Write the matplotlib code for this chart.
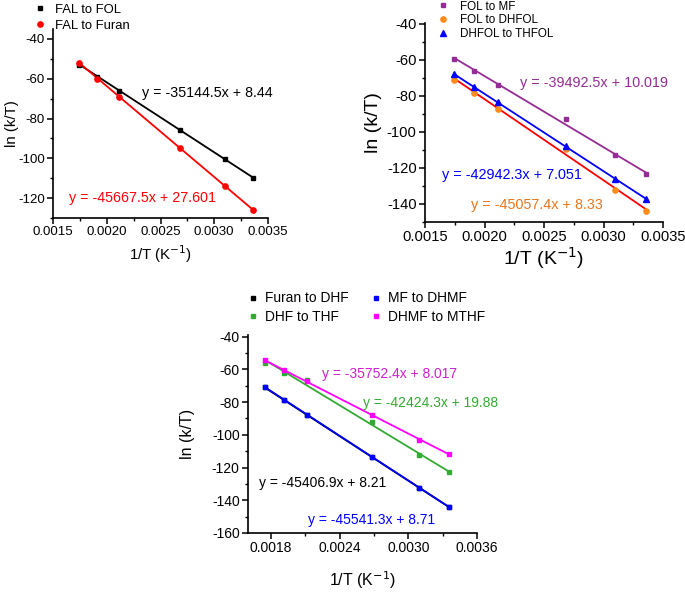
import matplotlib
matplotlib.use("Agg")
import matplotlib.pyplot as plt
from matplotlib.ticker import MultipleLocator
import numpy as np

plt.rcParams['font.family'] = ['Liberation Sans', 'DejaVu Sans']
plt.rcParams['axes.unicode_minus'] = False

# ---- data ----
inv_T = [0.001745, 0.001912, 0.002114, 0.002681, 0.003096, 0.003356]

# panel a
fal_fol = [-53.0, -59.0, -66.0, -86.0, -100.2, -109.8]
fal_furan = [-52.0, -60.0, -69.0, -95.0, -114.0, -125.8]
fit_fal_fol = (-35144.5, 8.44)
fit_fal_furan = (-45667.5, 27.601)

# panel b
fol_mf = [-59.5, -66.0, -74.0, -93.0, -113.0, -123.5]
fol_dhfol = [-71.0, -78.5, -87.5, -109.5, -132.0, -144.0]
dhfol_thfol = [-68.0, -75.0, -83.5, -108.0, -126.0, -137.0]
fit_fol_mf = (-39492.5, 10.019)
fit_fol_dhfol = (-45057.4, 8.33)
fit_dhfol_thfol = (-42942.3, 7.051)

# panel c
furan_dhf = [-71.0, -78.6, -87.8, -113.5, -132.4, -144.2]
dhf_thf = [-56.0, -62.0, -66.5, -92.0, -112.5, -123.0]
mf_dhmf = [-71.0, -78.5, -87.8, -113.4, -132.3, -144.2]
dhmf_mthf = [-54.5, -60.5, -67.0, -88.0, -103.0, -112.0]
fit_furan_dhf = (-45406.9, 8.21)
fit_dhf_thf = (-42424.3, 19.88)
fit_mf_dhmf = (-45541.3, 8.71)
fit_dhmf_mthf = (-35752.4, 8.017)

W, H = 685, 592
fig = plt.figure(figsize=(W / 100, H / 100), dpi=100)


def px_axes(l, t, r, b):
    return fig.add_axes([l / W, 1 - b / H, (r - l) / W, (b - t) / H])


def style(ax, fs_tick, fs_lab, xlab_off, ylab_off, hpx, wpx):
    for s in ['top', 'right']:
        ax.spines[s].set_visible(False)
    for s in ['left', 'bottom']:
        ax.spines[s].set_linewidth(1.2)
    ax.tick_params(which='major', direction='out', length=4, width=1.1, labelsize=fs_tick, pad=2)
    ax.tick_params(which='minor', direction='out', length=2.5, width=1.0)
    ax.set_xlabel('1/T (K$^{-1}$)', fontsize=fs_lab)
    ax.set_ylabel('ln (k/T)', fontsize=fs_lab)
    ax.xaxis.set_label_coords(0.5, -xlab_off / hpx)
    ax.xaxis.label.set_va('center')
    ax.yaxis.set_label_coords(-ylab_off / wpx, 0.5)
    ax.yaxis.label.set_va('center')


def fitline(ax, fit, color):
    x = np.array([inv_T[0], inv_T[-1]])
    ax.plot(x, fit[0] * x + fit[1], color=color, lw=1.3, zorder=2)


def eq(ax, fit, x, y, color, fs):
    a, b = fit
    ax.text(x, y, f"y = {a:g}x + {b:g}", color=color, fontsize=fs, va='center', ha='left')


# ---------- panel a ----------
ax1 = px_axes(53, 29, 268, 218)
fitline(ax1, fit_fal_fol, 'black')
fitline(ax1, fit_fal_furan, '#FF0000')
ax1.plot(inv_T, fal_fol, 's', color='black', ms=3.2, label='FAL to FOL', zorder=3)
ax1.plot(inv_T, fal_furan, 'o', color='#FF0000', ms=3.8, label='FAL to Furan', zorder=3)
ax1.set_xlim(0.0015, 0.0035)
ax1.set_ylim(-130, -35)
ax1.xaxis.set_minor_locator(MultipleLocator(0.00025))
ax1.yaxis.set_major_locator(MultipleLocator(20))
ax1.yaxis.set_minor_locator(MultipleLocator(10))
ax1.set_xticks([0.0015, 0.0020, 0.0025, 0.0030, 0.0035])
ax1.set_xticklabels(['0.0015', '0.0020', '0.0025', '0.0030', '0.0035'])
style(ax1, 9.5, 10.8, 36, 41, 189, 215)
eq(ax1, fit_fal_fol, 0.002328, -67.2, 'black', 10.3)
eq(ax1, fit_fal_furan, 0.00165, -120, '#FF0000', 10.3)
ax1.legend(loc='upper left', bbox_to_anchor=(33.5 / W, 1 - 3.5 / H), bbox_transform=fig.transFigure,
           frameon=False, fontsize=9.4, handlelength=1.0, handletextpad=0.65, borderpad=0,
           borderaxespad=0, labelspacing=0.32)

# ---------- panel b ----------
ax2 = px_axes(425, 23, 663, 222)
fitline(ax2, fit_fol_mf, '#952C95')
fitline(ax2, fit_fol_dhfol, '#FF0000')
fitline(ax2, fit_dhfol_thfol, '#0000FF')
ax2.plot(inv_T, fol_mf, 's', color='#952C95', ms=3.2, label='FOL to MF', zorder=3)
ax2.plot(inv_T, fol_dhfol, 'o', color='#FF8C1A', ms=3.8, label='FOL to DHFOL', zorder=3)
ax2.plot(inv_T, dhfol_thfol, '^', color='#0000FF', ms=4.0, label='DHFOL to THFOL', zorder=3)
ax2.set_xlim(0.0015, 0.0035)
ax2.set_ylim(-150, -39.5)
ax2.set_xticks([0.0015, 0.0020, 0.0025, 0.0030, 0.0035])
ax2.set_xticklabels(['0.0015', '0.0020', '0.0025', '0.0030', '0.0035'])
ax2.xaxis.set_minor_locator(MultipleLocator(0.00025))
ax2.yaxis.set_major_locator(MultipleLocator(20))
ax2.yaxis.set_minor_locator(MultipleLocator(10))
style(ax2, 10.6, 14, 36, 52, 199, 238)
eq(ax2, fit_fol_mf, 0.002298, -72.8, '#952C95', 10.4)
eq(ax2, fit_dhfol_thfol, 0.001643, -123.9, '#0000FF', 10.4)
eq(ax2, fit_fol_dhfol, 0.001887, -140.5, '#E8761C', 10.4)
ax2.legend(loc='upper left', bbox_to_anchor=(437 / W, 1 - 0.5 / H), bbox_transform=fig.transFigure,
           frameon=False, fontsize=8.4, handlelength=1.0, handletextpad=0.95, borderpad=0,
           borderaxespad=0, labelspacing=0.15)

# ---------- panel c ----------
ax3 = px_axes(248, 335, 477, 533)
fitline(ax3, fit_furan_dhf, 'black')
fitline(ax3, fit_dhf_thf, '#33AA33')
fitline(ax3, fit_mf_dhmf, '#0000FF')
fitline(ax3, fit_dhmf_mthf, '#FF00FF')
h1, = ax3.plot(inv_T, furan_dhf, 's', color='black', ms=3.2, label='Furan to DHF', zorder=3)
h2, = ax3.plot(inv_T, dhf_thf, 's', color='#33AA33', ms=3.2, label='DHF to THF', zorder=3)
h3, = ax3.plot(inv_T, mf_dhmf, 's', color='#0000FF', ms=3.2, label='MF to DHMF', zorder=3)
h4, = ax3.plot(inv_T, dhmf_mthf, 's', color='#FF00FF', ms=3.2, label='DHMF to MTHF', zorder=3)
ax3.set_xlim(0.0016, 0.0036)
ax3.set_ylim(-160, -39)
ax3.set_xticks([0.0018, 0.0024, 0.0030, 0.0036])
ax3.set_xticklabels(['0.0018', '0.0024', '0.0030', '0.0036'])
ax3.xaxis.set_minor_locator(MultipleLocator(0.0003))
ax3.yaxis.set_major_locator(MultipleLocator(20))
ax3.yaxis.set_minor_locator(MultipleLocator(10))
style(ax3, 10.0, 11.5, 47, 61, 198, 229)
eq(ax3, fit_dhmf_mthf, 0.002246, -63.1, '#CC22CC', 10.0)
eq(ax3, fit_dhf_thf, 0.002604, -80.7, '#33AA33', 10.0)
eq(ax3, fit_furan_dhf, 0.001696, -129.4, 'black', 10.0)
eq(ax3, fit_mf_dhmf, 0.002124, -151.9, '#0000FF', 10.0)
ax3.legend(handles=[h1, h2, h3, h4], ncol=2, loc='upper left',
           bbox_to_anchor=(247.5 / W, 1 - 291.5 / H), bbox_transform=fig.transFigure,
           frameon=False, fontsize=9.9, handlelength=0.8, handletextpad=0.47, borderpad=0,
           borderaxespad=0, labelspacing=0.3, columnspacing=1.6)

fig.savefig('out.png', dpi=100)
